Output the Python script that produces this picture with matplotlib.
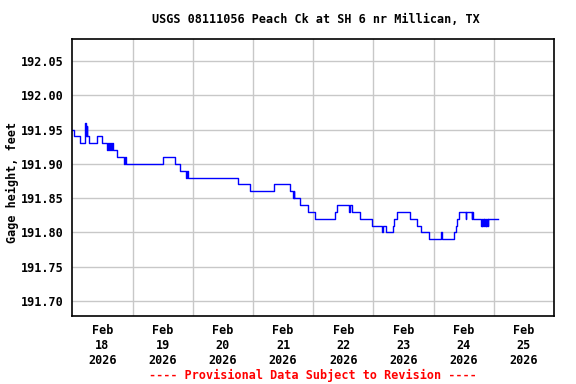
import numpy as np
import pandas as pd
import matplotlib
matplotlib.use('Agg')
import matplotlib.pyplot as plt

# Gage height step changes (time, feet)
times = [
    '2026-02-18 00:00', '2026-02-18 00:45', '2026-02-18 03:15', '2026-02-18 05:15',
    '2026-02-18 05:30', '2026-02-18 05:45', '2026-02-18 06:00', '2026-02-18 06:30',
    '2026-02-18 09:45', '2026-02-18 11:45', '2026-02-18 13:45', '2026-02-18 14:15',
    '2026-02-18 14:30', '2026-02-18 15:00', '2026-02-18 15:15', '2026-02-18 16:00',
    '2026-02-18 16:15', '2026-02-18 17:45', '2026-02-18 20:45', '2026-02-18 21:00',
    '2026-02-18 21:15', '2026-02-19 12:00', '2026-02-19 17:00', '2026-02-19 19:00',
    '2026-02-19 21:30', '2026-02-19 21:45', '2026-02-19 22:00', '2026-02-20 18:00',
    '2026-02-20 22:45', '2026-02-21 08:30', '2026-02-21 14:45', '2026-02-21 16:00',
    '2026-02-21 16:15', '2026-02-21 16:30', '2026-02-21 18:45', '2026-02-21 22:00',
    '2026-02-22 00:45', '2026-02-22 08:45', '2026-02-22 09:30', '2026-02-22 14:15',
    '2026-02-22 14:30', '2026-02-22 15:30', '2026-02-22 18:45', '2026-02-22 23:30',
    '2026-02-23 03:30', '2026-02-23 03:45', '2026-02-23 05:00', '2026-02-23 07:45',
    '2026-02-23 08:15', '2026-02-23 09:30', '2026-02-23 14:30', '2026-02-23 17:15',
    '2026-02-23 19:00', '2026-02-23 22:00', '2026-02-24 03:00', '2026-02-24 03:15',
    '2026-02-24 08:00', '2026-02-24 08:45', '2026-02-24 09:30', '2026-02-24 10:15',
    '2026-02-24 12:45', '2026-02-24 13:00', '2026-02-24 15:15', '2026-02-24 15:30',
    '2026-02-24 15:45', '2026-02-24 19:00', '2026-02-24 19:15', '2026-02-24 19:30',
    '2026-02-24 19:45', '2026-02-24 20:00', '2026-02-24 20:15', '2026-02-24 20:30',
    '2026-02-24 20:45', '2026-02-24 21:00', '2026-02-24 21:15', '2026-02-24 21:30',
    '2026-02-24 21:45', '2026-02-25 01:45',
]
gage_ft = [
    191.95, 191.94, 191.93, 191.96,
    191.94, 191.955, 191.94, 191.93,
    191.94, 191.93, 191.92, 191.93,
    191.92, 191.93, 191.92, 191.93,
    191.92, 191.91, 191.90, 191.91,
    191.90, 191.91, 191.90, 191.89,
    191.88, 191.89, 191.88, 191.87,
    191.86, 191.87, 191.86, 191.85,
    191.86, 191.85, 191.84, 191.83,
    191.82, 191.83, 191.84, 191.83,
    191.84, 191.83, 191.82, 191.81,
    191.80, 191.81, 191.80, 191.81,
    191.82, 191.83, 191.82, 191.81,
    191.80, 191.79, 191.80, 191.79,
    191.80, 191.81, 191.82, 191.83,
    191.82, 191.83, 191.82, 191.83,
    191.82, 191.81, 191.82, 191.81,
    191.82, 191.81, 191.82, 191.81,
    191.82, 191.81, 191.82, 191.81,
    191.82, 191.82,
]
day_labels = ['18', '19', '20', '21', '22', '23', '24', '25']
y_ticks = [191.70, 191.75, 191.80, 191.85, 191.90, 191.95, 192.00, 192.05]

t = pd.to_datetime(times)

plt.rcParams['font.family'] = ['DejaVu Sans Mono']
plt.rcParams['font.weight'] = 'bold'

fig = plt.figure(figsize=(5.76, 3.84), dpi=100)
ax = fig.add_axes([0.1255, 0.177, 0.8363, 0.7214])

ax.plot(t, gage_ft, color='#0000ff', linewidth=1.0, drawstyle='steps-post')

start = pd.Timestamp('2026-02-18')
ax.set_xlim(start, start + pd.Timedelta(days=8))
ax.set_ylim(191.678, 192.082)

# gridlines at midnight, labels at noon
ax.set_xticks([start + pd.Timedelta(days=i) for i in range(1, 8)])
ax.set_xticks([start + pd.Timedelta(days=i, hours=12) for i in range(8)], minor=True)
ax.set_xticklabels([])
ax.set_xticklabels(['Feb\n%s\n2026' % d for d in day_labels], minor=True)
ax.tick_params(axis='x', which='both', length=0, labelsize=8.5, pad=6)

ax.set_yticks(y_ticks)
ax.set_yticklabels(['%.2f' % v for v in y_ticks])
ax.tick_params(axis='y', length=0, labelsize=8.5, pad=6)

ax.grid(True, color='#c8c8c8', linewidth=1.0)
ax.set_axisbelow(True)
for s in ax.spines.values():
    s.set_color('black')
    s.set_linewidth(1.2)

fig.text(0.021, 0.526, 'Gage height, feet', rotation=90, ha='center', va='center',
         fontsize=8.5, fontweight='bold')
fig.text(0.548, 0.948, 'USGS 08111056 Peach Ck at SH 6 nr Millican, TX',
         ha='center', va='center', fontsize=8.5, fontweight='bold')
fig.text(0.543, 0.023, '---- Provisional Data Subject to Revision ----',
         ha='center', va='center', fontsize=8.5, fontweight='bold', color='red')

fig.savefig('out.png', dpi=100)
